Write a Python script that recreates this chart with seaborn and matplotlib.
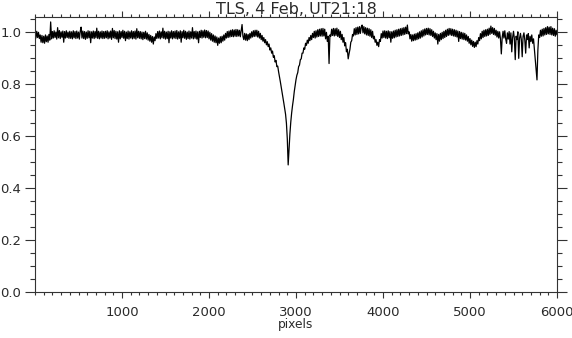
import matplotlib
matplotlib.use("Agg")
import matplotlib.pyplot as plt
import seaborn as sns
import numpy as np
import pandas as pd
from matplotlib.ticker import MultipleLocator

# ---- data (one value every 10 pixels, 0..6000) ----
pixel_step = 10
flux = [
    # 0 - 390
    1.002, 0.978, 1.004, 0.980, 1.000, 0.976, 0.990, 0.962, 0.988, 0.960,
    0.985, 0.958, 0.990, 0.964, 0.986, 0.962, 0.992, 0.970, 1.040, 0.975,
    1.003, 0.978, 1.006, 0.980, 1.001, 0.974, 1.018, 0.979, 1.007, 0.976,
    1.002, 0.981, 1.005, 0.962, 1.003, 0.978, 1.006, 0.980, 1.001, 0.977,
    # 400 - 790
    1.004, 0.977, 1.002, 0.975, 1.006, 0.979, 1.003, 0.976, 1.005, 0.978,
    1.001, 0.974, 1.004, 1.020, 0.978, 1.005, 0.976, 1.003, 0.973, 1.001,
    0.977, 1.006, 0.979, 1.004, 0.960, 1.002, 0.978, 1.005, 0.976, 1.003,
    0.979, 1.016, 0.977, 1.004, 0.975, 1.002, 0.978, 1.005, 0.976, 1.003,
    # 800 - 1190
    0.977, 1.004, 0.979, 1.006, 0.975, 1.002, 0.978, 1.005, 0.973, 1.015,
    0.979, 1.007, 0.976, 1.004, 0.974, 1.002, 0.962, 1.006, 0.975, 1.003,
    0.980, 1.008, 0.977, 1.004, 0.968, 1.001, 0.976, 1.005, 0.974, 1.002,
    0.978, 1.006, 0.975, 1.003, 0.977, 1.005, 0.974, 1.014, 0.979, 1.004,
    # 1200 - 1590
    0.977, 1.003, 0.975, 1.001, 0.972, 1.000, 0.976, 1.004, 0.974, 0.998,
    0.970, 0.992, 0.966, 0.988, 0.962, 0.984, 0.955, 0.982, 0.968, 0.995,
    0.976, 1.003, 0.978, 1.005, 0.975, 1.002, 0.979, 1.016, 0.977, 1.004,
    0.974, 1.001, 0.976, 1.004, 0.960, 1.002, 0.978, 1.006, 0.975, 1.003,
    # 1600 - 1990
    0.978, 1.005, 0.976, 1.007, 0.974, 1.002, 0.977, 1.006, 0.962, 1.003,
    0.979, 1.008, 0.977, 1.004, 0.973, 1.001, 0.976, 1.005, 0.974, 1.002,
    0.978, 1.018, 0.975, 1.003, 0.977, 1.005, 0.974, 1.002, 0.960, 1.004,
    0.980, 1.008, 0.978, 1.006, 0.981, 1.009, 0.979, 1.007, 0.980, 1.005,
    # 2000 - 2390
    0.975, 1.000, 0.970, 0.995, 0.966, 0.990, 0.962, 0.986, 0.960, 0.982,
    0.950, 0.978, 0.958, 0.983, 0.960, 0.985, 0.966, 0.990, 0.970, 0.996,
    0.978, 1.003, 0.980, 1.005, 0.982, 1.008, 0.984, 1.010, 0.983, 1.009,
    0.985, 1.011, 0.984, 1.010, 0.986, 1.008, 0.983, 1.006, 1.030, 0.985,
    # 2400 - 2790
    0.972, 0.996, 0.970, 0.994, 0.968, 0.992, 0.972, 0.996, 0.978, 1.002,
    0.982, 1.006, 0.984, 1.008, 0.985, 1.008, 0.982, 1.004, 0.978, 0.996,
    0.972, 0.988, 0.966, 0.980, 0.960, 0.972, 0.952, 0.964, 0.945, 0.955,
    0.932, 0.940, 0.920, 0.928, 0.904, 0.910, 0.886, 0.892, 0.868, 0.870,
    # 2800 - 3190
    0.848, 0.830, 0.810, 0.790, 0.770, 0.750, 0.728, 0.706, 0.685, 0.650,
    0.590, 0.490, 0.550, 0.610, 0.655, 0.690, 0.718, 0.742, 0.772, 0.796,
    0.818, 0.835, 0.845, 0.868, 0.874, 0.895, 0.898, 0.920, 0.920, 0.940,
    0.935, 0.958, 0.950, 0.970, 0.958, 0.980, 0.968, 0.988, 0.972, 0.996,
    # 3200 - 3590
    0.980, 1.004, 0.978, 1.006, 0.982, 1.010, 0.984, 1.012, 0.986, 1.014,
    0.985, 1.015, 0.986, 1.012, 0.975, 1.000, 0.965, 0.985, 0.880, 0.990,
    0.985, 1.012, 0.988, 1.015, 0.986, 1.014, 0.988, 1.016, 0.984, 1.010,
    0.980, 1.004, 0.972, 0.992, 0.962, 0.980, 0.948, 0.960, 0.925, 0.935,
    # 3600 - 3990
    0.898, 0.918, 0.935, 0.962, 0.968, 0.992, 0.986, 1.014, 0.990, 1.018,
    0.992, 1.020, 0.994, 1.022, 0.996, 1.020, 1.028, 0.998, 1.022, 0.994,
    1.018, 0.990, 1.016, 0.988, 1.014, 0.985, 1.010, 0.980, 1.004, 0.975,
    0.985, 0.962, 0.972, 0.950, 0.962, 0.945, 0.972, 0.965, 0.995, 0.978,
    # 4000 - 4390
    1.005, 0.980, 1.006, 0.978, 1.004, 0.976, 1.006, 0.979, 1.003, 0.962,
    1.002, 0.977, 1.005, 0.979, 1.008, 0.982, 1.010, 0.984, 1.012, 0.986,
    1.014, 0.988, 1.016, 0.990, 1.018, 0.992, 1.020, 0.995, 1.028, 0.994,
    1.002, 0.975, 0.992, 0.966, 0.990, 0.968, 0.993, 0.970, 0.995, 0.972,
    # 4400 - 4790
    0.998, 0.975, 1.002, 0.978, 1.006, 0.982, 1.010, 0.986, 1.013, 0.990,
    1.015, 0.992, 1.016, 0.990, 1.014, 0.988, 1.010, 0.984, 1.004, 0.978,
    0.998, 0.972, 0.995, 0.955, 0.992, 0.966, 0.996, 0.972, 1.000, 0.976,
    1.004, 0.980, 1.008, 0.984, 1.012, 0.988, 1.015, 0.990, 1.014, 0.988,
    # 4800 - 5190
    1.012, 0.986, 1.010, 0.984, 1.008, 0.982, 1.005, 0.965, 1.003, 0.976,
    1.000, 0.974, 0.998, 0.972, 0.996, 0.970, 0.990, 0.966, 0.984, 0.958,
    0.976, 0.952, 0.970, 0.946, 0.965, 0.942, 0.962, 0.945, 0.968, 0.955,
    0.980, 0.968, 0.995, 0.975, 1.004, 0.980, 1.008, 0.984, 1.010, 0.986,
    # 5200 - 5590
    1.012, 0.988, 1.016, 0.992, 1.024, 0.996, 1.018, 0.992, 1.015, 0.989,
    1.008, 0.982, 1.004, 0.978, 1.002, 0.975, 0.917, 0.980, 1.004, 0.978,
    1.006, 0.975, 0.958, 0.998, 0.974, 1.003, 0.955, 0.998, 0.925, 0.980,
    1.004, 0.976, 0.895, 0.985, 0.972, 1.002, 0.900, 0.978, 0.996, 0.972,
    # 5600 - 6000
    0.906, 0.985, 0.998, 0.970, 0.920, 0.990, 0.972, 0.995, 0.940, 0.985,
    0.965, 0.990, 0.958, 0.975, 0.935, 0.900, 0.860, 0.817, 0.930, 0.990,
    0.980, 1.008, 0.985, 1.012, 0.986, 1.015, 0.990, 1.018, 0.992, 1.022,
    0.994, 1.020, 0.992, 1.022, 0.990, 1.016, 0.988, 1.014, 0.985, 1.008,
    0.990,
]
pixels = [i * pixel_step for i in range(len(flux))]

x_ticks = [1000, 2000, 3000, 4000, 5000, 6000]
y_ticks = [0.0, 0.2, 0.4, 0.6, 0.8, 1.0]
y_tick_labels = ["0.0", "0.2", "0.4", "0.6", "0.8", "1.0"]
title_text = "TLS, 4 Feb, UT21:18"
x_label = "pixels"

# ---- plot ----
sns.set_style("white")
plt.rcParams["font.family"] = ["DejaVu Sans"]
W, H = 572, 338
fig = plt.figure(figsize=(W / 100, H / 100), dpi=100)
ax = fig.add_axes([35 / W, 45.7 / H, 522 / W, 275.3 / H])

df = pd.DataFrame({"pixels": pixels, "flux": flux})
sns.lineplot(data=df, x="pixels", y="flux", ax=ax, color="black",
             lw=0.9, estimator=None, sort=True)

ax.set_xlim(0, 6000)
ax.set_ylim(0, 1.059)
ax.set_xticks(x_ticks)
ax.set_xticklabels([str(t) for t in x_ticks])
ax.xaxis.set_minor_locator(MultipleLocator(100))
ax.set_yticks(y_ticks)
ax.set_yticklabels(y_tick_labels)
ax.yaxis.set_minor_locator(MultipleLocator(0.05))
ax.set_xlabel("")
ax.set_ylabel("")

tc = "#2a2a2a"
ax.tick_params(axis="x", which="major", direction="out", length=4,
               width=0.8, top=True, bottom=True, labeltop=False,
               labelsize=9.5, labelcolor=tc, pad=6, color="#333333")
ax.tick_params(axis="x", which="minor", direction="out", length=2,
               width=0.8, top=True, bottom=True, color="#333333")
ax.tick_params(axis="y", which="major", direction="out", length=7.5,
               width=0.8, left=True, right=True, labelright=False,
               labelsize=9.5, labelcolor=tc, pad=2.5, color="#333333")
ax.tick_params(axis="y", which="minor", direction="out", length=3.75,
               width=0.8, left=True, right=True, color="#333333")
for s in ax.spines.values():
    s.set_visible(True)
    s.set_color("#333333")
    s.set_linewidth(0.8)

fig.text(296 / W, (H - 13.5) / H, title_text, ha="center", va="baseline",
         fontsize=11.5, color=tc)
fig.text(296 / W, (H - 328) / H, x_label, ha="center", va="baseline",
         fontsize=8.8, color=tc)

fig.savefig("out.png", dpi=100)
